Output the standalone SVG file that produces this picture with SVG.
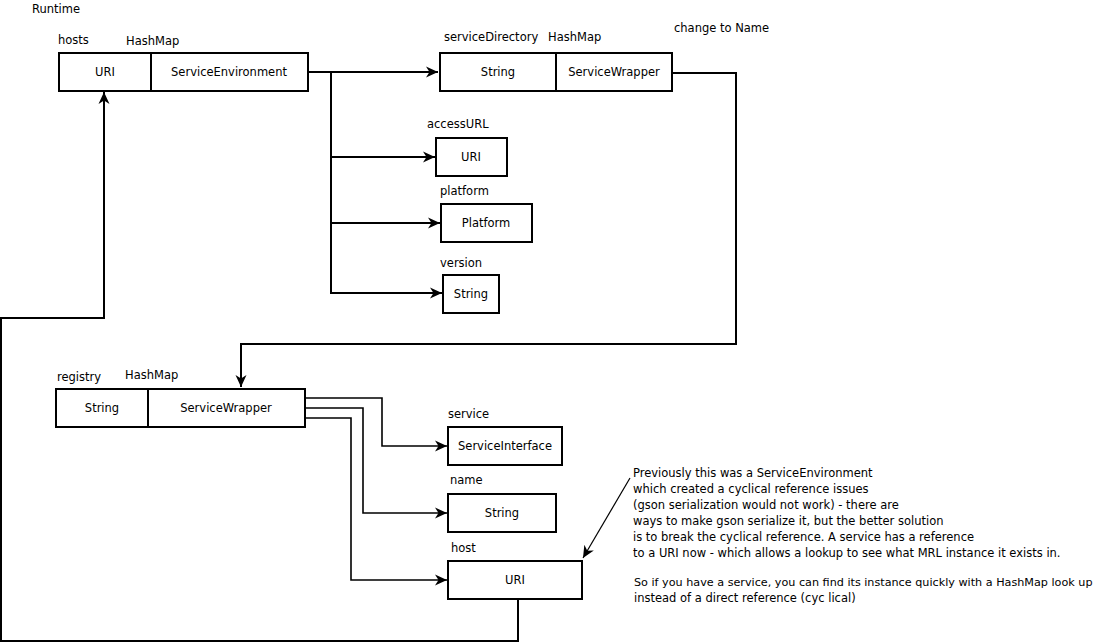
<svg xmlns="http://www.w3.org/2000/svg" width="1096" height="644" viewBox="0 0 1096 644">
<style>
text{font-family:"DejaVu Sans",Verdana,sans-serif;font-size:11.5px;fill:#000}
.c{text-anchor:middle}
.box{fill:#fff;stroke:#000;stroke-width:2}
.ln{fill:none;stroke:#000;stroke-width:2}
.thin{fill:none;stroke:#000;stroke-width:1.6}
.note{fill:none;stroke:#000;stroke-width:1.2}
.sm{font-size:11.2px}
</style>
<defs>
<marker id="ah" markerUnits="userSpaceOnUse" markerWidth="13" markerHeight="13" viewBox="0 0 13 13" refX="12" refY="6.5" orient="auto">
<path d="M0,1 L12,6.5 L0,12 L3.5,6.5 z" fill="#000"/>
</marker>
</defs>
<rect width="1096" height="644" fill="#fff"/>
<g id="connectors">
<path class="ln" d="M308,72 H438" marker-end="url(#ah)"/>
<path class="ln" d="M331,72 V293 H442" marker-end="url(#ah)"/>
<path class="ln" d="M331,157 H435" marker-end="url(#ah)"/>
<path class="ln" d="M331,223 H440" marker-end="url(#ah)"/>
<path class="ln" d="M672,73 H736 V344 H241 V387" marker-end="url(#ah)"/>
<path class="thin" d="M305,398 H382 V446 H447" marker-end="url(#ah)"/>
<path class="thin" d="M305,408 H363 V513 H447" marker-end="url(#ah)"/>
<path class="thin" d="M305,418 H351 V580 H447" marker-end="url(#ah)"/>
<path class="ln" d="M518,600 V641 H1 V318 H104 V92" marker-end="url(#ah)"/>
<path class="note" d="M630,478 L583,558" marker-end="url(#ah)"/>
</g>
<text x="32" y="13">Runtime</text>
<g id="hosts">
<text x="58" y="44">hosts</text>
<text x="126" y="45">HashMap</text>
<rect class="box" x="59" y="53" width="92" height="38"/>
<rect class="box" x="151" y="53" width="157" height="38"/>
<text class="c" x="105" y="76">URI</text>
<text class="c" x="229" y="76">ServiceEnvironment</text>
</g>
<g id="serviceDirectory">
<text x="444" y="41">serviceDirectory</text>
<text x="548" y="41">HashMap</text>
<rect class="box" x="440" y="53" width="116" height="38"/>
<rect class="box" x="556" y="53" width="116" height="38"/>
<text class="c" x="498" y="76">String</text>
<text class="c" x="614" y="76">ServiceWrapper</text>
</g>
<text x="674" y="32">change to Name</text>
<g id="accessURL">
<text x="427" y="128">accessURL</text>
<rect class="box" x="436" y="138" width="71" height="38"/>
<text class="c" x="471" y="161">URI</text>
</g>
<g id="platform">
<text x="440" y="195">platform</text>
<rect class="box" x="441" y="204" width="91" height="38"/>
<text class="c" x="486" y="227">Platform</text>
</g>
<g id="version">
<text x="440" y="267">version</text>
<rect class="box" x="443" y="275" width="56" height="38"/>
<text class="c" x="471" y="298">String</text>
</g>
<g id="registry">
<text x="57" y="381">registry</text>
<text x="125" y="379">HashMap</text>
<rect class="box" x="56" y="389" width="92" height="38"/>
<rect class="box" x="148" y="389" width="157" height="38"/>
<text class="c" x="102" y="412">String</text>
<text class="c" x="226" y="412">ServiceWrapper</text>
</g>
<g id="service">
<text x="448" y="418">service</text>
<rect class="box" x="448" y="427" width="114" height="38"/>
<text class="c" x="505" y="450">ServiceInterface</text>
</g>
<g id="name">
<text x="450" y="484">name</text>
<rect class="box" x="448" y="494" width="108" height="38"/>
<text class="c" x="502" y="517">String</text>
</g>
<g id="host">
<text x="451" y="552">host</text>
<rect class="box" x="448" y="561" width="134" height="38"/>
<text class="c" x="515" y="584">URI</text>
</g>
<g id="note">
<text x="633" y="477">Previously this was a ServiceEnvironment</text>
<text x="633" y="493">which created a cyclical reference issues</text>
<text x="633" y="509">(gson serialization would not work) - there are</text>
<text x="633" y="525">ways to make gson serialize it, but the better solution</text>
<text x="633" y="541">is to break the cyclical reference. A service has a reference</text>
<text x="633" y="557">to a URI now - which allows a lookup to see what MRL instance it exists in.</text>
<text class="sm" x="634" y="586">So if you have a service, you can find its instance quickly with a HashMap look up</text>
<text x="634" y="602">instead of a direct reference (cyc lical)</text>
</g>
</svg>
